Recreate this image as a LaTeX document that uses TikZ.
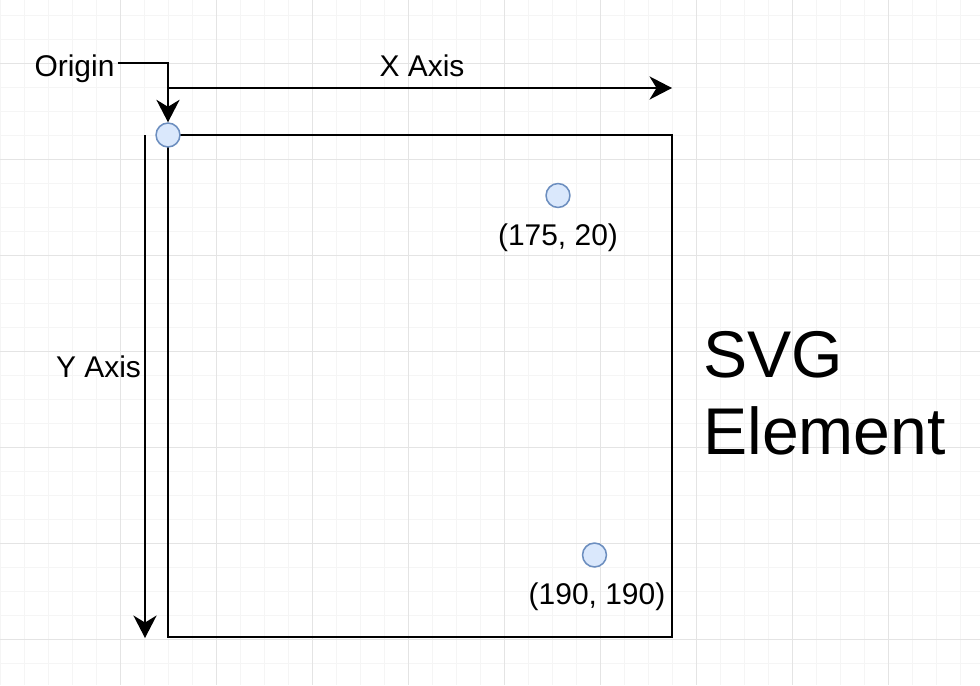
\documentclass[tikz,border=0pt]{standalone}
\usepackage{fontspec}
\setmainfont{Liberation Sans}
\usepackage{xcolor}
\usepackage{tikz}
\usetikzlibrary{arrows.meta}

\definecolor{dotfill}{HTML}{DAE8FC}
\definecolor{dotline}{HTML}{6C8EBF}
\definecolor{gridminor}{HTML}{F5F5F5}
\definecolor{gridmajor}{HTML}{E4E4E4}

\tikzset{
  dot/.style={circle, draw=dotline, fill=dotfill, line width=1.1pt, minimum size=17pt, inner sep=0pt},
  lbl/.style={font=\fontsize{21.3pt}{25pt}\selectfont, inner sep=2pt},
  axis/.style={line width=1.4pt, -{Stealth[length=16pt, width=16.5pt, inset=5pt]}}
}

\begin{document}
\begin{tikzpicture}[x=0.025cm, y=-0.025cm]
    \useasboundingbox (0,0) rectangle (980,685);
    \fill[white] (0,0) rectangle (980,685);
    % grid
    \foreach \x in {0.7,24.7,...,980} \draw[gridminor, line width=0.6pt] (\x,0) -- (\x,685);
    \foreach \y in {15.3,39.3,...,685} \draw[gridminor, line width=0.6pt] (0,\y) -- (980,\y);
    \foreach \x in {120.7,216.7,...,980} \draw[gridmajor, line width=0.6pt] (\x,0) -- (\x,685);
    \foreach \y in {63.3,159.3,...,685} \draw[gridmajor, line width=0.6pt] (0,\y) -- (980,\y);

    % svg element box
    \coordinate (tl) at (168,135);
    \coordinate (br) at (672,637);
    \draw[line width=1.4pt] (tl) rectangle (br);

    % axes
    \coordinate (xa) at (168,88);
    \coordinate (xb) at (672,88);
    \draw[axis] (xa) -- (xb);
    \node[lbl, anchor=base] (xlbl) at (422,76) {X Axis};

    \coordinate (ya) at (145,135);
    \coordinate (yb) at (145,638);
    \draw[axis] (ya) -- (yb);
    \node[lbl, anchor=base] (ylbl) at (98.5,377) {Y Axis};

    % origin
    \node[dot] (odot) at (168,135) {};
    \node[lbl, anchor=base] (olbl) at (74.5,76) {Origin};
    \coordinate (okink) at (168,63);
    \draw[axis] (olbl.east |- okink) -- (okink) -- (odot.north);

    % points
    \node[dot] (p1) at (558,195.5) {};
    \node[lbl, anchor=base] (p1lbl) at (558,245) {(175, 20)};
    \node[dot] (p2) at (594.5,555) {};
    \node[lbl, anchor=base] (p2lbl) at (597,604) {(190, 190)};

    \node[anchor=west, align=left, inner sep=0pt,
          font=\fontsize{47pt}{54.6pt}\selectfont] (svglbl) at (703,393) {SVG\\Element};
\end{tikzpicture}
\end{document}
